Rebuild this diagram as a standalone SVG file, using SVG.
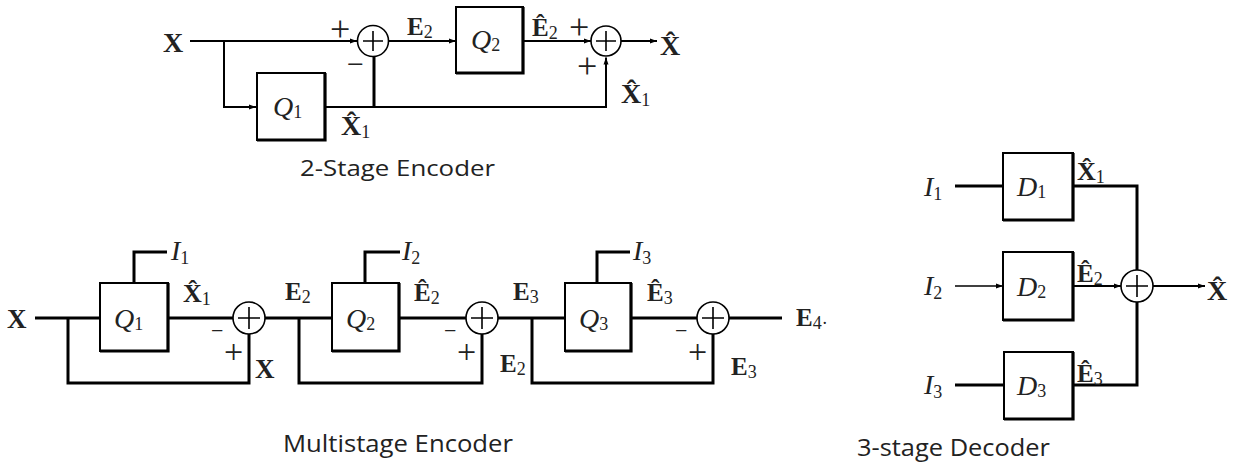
<svg xmlns="http://www.w3.org/2000/svg" width="1237" height="464" viewBox="0 0 1237 464">
<defs>
<marker id="ah" markerUnits="userSpaceOnUse" markerWidth="8" markerHeight="6" refX="7" refY="3" orient="auto"><path d="M0,0.5 L7,3 L0,5.5 Z" fill="#000"/></marker>
<style>
.ln{fill:none;stroke:#000;stroke-width:2}
.tk{fill:none;stroke:#000;stroke-width:3}
.th{fill:none;stroke:#000;stroke-width:1.5}
.bx{fill:#fff;stroke:#000;stroke-width:2}
.bxe{fill:none;stroke:#000;stroke-width:3.2}
.sm{fill:#fff;stroke:#000;stroke-width:1.6}
.pl{stroke:#000;stroke-width:1.6}
.mb{font-family:"Liberation Serif",serif;font-weight:bold;fill:#222}
.mi{font-family:"Liberation Serif",serif;font-style:italic;fill:#222;font-size:28px}
.sub{font-family:"Liberation Serif",serif;font-style:normal;font-weight:normal;font-size:18px}
.sg{font-family:"Liberation Serif",serif;fill:#222}
.cap{font-family:"Open Sans","DejaVu Sans",sans-serif;fill:#222}
</style>
</defs>
<rect width="1237" height="464" fill="#fff"/>

<g id="connectors">
<!-- top encoder -->
<path class="ln" d="M190,41 H357" marker-end="url(#ah)"/>
<path class="ln" d="M224,41 V107 H256" marker-end="url(#ah)"/>
<path class="ln" d="M325,107 H606 V57.5" marker-end="url(#ah)"/>
<path class="tk" d="M374,107 V57"/>
<path class="ln" d="M389,41 H456" marker-end="url(#ah)"/>
<path class="ln" d="M523,41 H591" marker-end="url(#ah)"/>
<path class="ln" d="M621,41 H657" marker-end="url(#ah)"/>
<!-- multistage encoder -->
<path class="tk" d="M35,318 H100"/>
<path class="tk" d="M68,318 V383 H249 V334"/>
<path class="tk" d="M168,318 H233"/>
<path class="tk" d="M265,318 H332"/>
<path class="tk" d="M299,318 V383 H482 V334"/>
<path class="tk" d="M399,318 H466"/>
<path class="tk" d="M498,318 H565"/>
<path class="tk" d="M532,318 V383 H713 V334"/>
<path class="tk" d="M631,318 H697"/>
<path class="tk" d="M729,318 H782"/>
<path class="tk" d="M134,283 V252 H167"/>
<path class="tk" d="M365,283 V252 H400"/>
<path class="tk" d="M597,283 V252 H630"/>
<!-- decoder -->
<path class="tk" d="M955,186 H1003"/>
<path class="tk" d="M1073,186 H1137 V270"/>
<path class="th" d="M955,286 H1003" marker-end="url(#ah)"/>
<path class="ln" d="M1073,286 H1121" marker-end="url(#ah)"/>
<path class="ln" d="M1153,286 H1205" marker-end="url(#ah)"/>
<path class="tk" d="M955,385 H1004"/>
<path class="tk" d="M1073,385 H1137 V302"/>
</g>

<!-- ===== 2-stage encoder ===== -->
<g id="te-x"><text class="mb" x="163" y="52" style="font-size:28px">X</text></g>
<g id="te-q1">
<rect class="bx" x="257" y="73" width="68" height="67"/>
<path class="bxe" d="M325,73 V140 H257"/>
<text class="mi" x="273" y="116">Q<tspan class="sub" dy="2">1</tspan></text>
</g>
<g id="te-sum1">
<circle class="sm" cx="373" cy="41" r="15.5"/>
<path class="pl" d="M363,41 H383 M373,31 V51"/>
<text class="sg" x="330" y="41" style="font-size:36px">+</text>
<text class="sg" x="347" y="74" style="font-size:30px">−</text>
</g>
<g id="te-e2"><text class="mb" x="407" y="35" style="font-size:25px">E<tspan class="sub" dy="3">2</tspan></text></g>
<g id="te-q2">
<rect class="bx" x="456" y="7" width="67" height="66"/>
<path class="bxe" d="M523,7 V73 H456"/>
<text class="mi" x="471" y="49">Q<tspan class="sub" dy="2">2</tspan></text>
</g>
<g id="te-e2h"><text class="mb" x="532" y="36" style="font-size:25px">Ê<tspan class="sub" dy="3">2</tspan></text></g>
<g id="te-sum2">
<circle class="sm" cx="606" cy="41" r="15"/>
<path class="pl" d="M596,41 H616 M606,31 V51"/>
<text class="sg" x="569" y="39" style="font-size:36px">+</text>
<text class="sg" x="577" y="78" style="font-size:36px">+</text>
</g>
<g id="te-out"><text class="mb" x="660" y="55" style="font-size:28px">X̂</text></g>
<g id="te-x1r"><text class="mb" x="621" y="103" style="font-size:28px">X̂<tspan class="sub" dy="3">1</tspan></text></g>
<g id="te-x1b"><text class="mb" x="341" y="135" style="font-size:28px">X̂<tspan class="sub" dy="3">1</tspan></text></g>
<g id="te-cap"><text class="cap" x="300" y="176" style="font-size:22px" textLength="195" lengthAdjust="spacingAndGlyphs">2-Stage Encoder</text></g>

<!-- ===== multistage encoder ===== -->
<g id="me-x"><text class="mb" x="7" y="328" style="font-size:27px">X</text></g>
<g id="me-q1">
<rect class="bx" x="100" y="283" width="68" height="68"/>
<path class="bxe" d="M168,283 V351 H100"/>
<text class="mi" x="114" y="328">Q<tspan class="sub" dy="2">1</tspan></text>
<text class="mi" x="171" y="260">I<tspan class="sub" dy="4">1</tspan></text>
<text class="mb" x="183" y="302" style="font-size:26px">X̂<tspan class="sub" dy="3">1</tspan></text>
</g>
<g id="me-sum1">
<circle class="sm" cx="249" cy="318" r="16"/>
<path class="pl" d="M238,318 H260 M249,307 V329"/>
<text class="sg" x="211" y="338" style="font-size:22px">−</text>
<text class="sg" x="224" y="363" style="font-size:34px">+</text>
<text class="mb" x="255" y="378" style="font-size:27px">X</text>
</g>
<g id="me-e2"><text class="mb" x="285" y="300" style="font-size:25px">E<tspan class="sub" dy="3">2</tspan></text></g>
<g id="me-q2">
<rect class="bx" x="332" y="283" width="67" height="68"/>
<path class="bxe" d="M399,283 V351 H332"/>
<text class="mi" x="346" y="328">Q<tspan class="sub" dy="2">2</tspan></text>
<text class="mi" x="402" y="260">I<tspan class="sub" dy="4">2</tspan></text>
<text class="mb" x="414" y="301" style="font-size:25px">Ê<tspan class="sub" dy="3">2</tspan></text>
</g>
<g id="me-sum2">
<circle class="sm" cx="482" cy="318" r="16"/>
<path class="pl" d="M471,318 H493 M482,307 V329"/>
<text class="sg" x="444" y="338" style="font-size:22px">−</text>
<text class="sg" x="457" y="363" style="font-size:34px">+</text>
<text class="mb" x="500" y="372" style="font-size:25px">E<tspan class="sub" dy="3">2</tspan></text>
</g>
<g id="me-e3"><text class="mb" x="513" y="300" style="font-size:25px">E<tspan class="sub" dy="3">3</tspan></text></g>
<g id="me-q3">
<rect class="bx" x="565" y="283" width="66" height="68"/>
<path class="bxe" d="M631,283 V351 H565"/>
<text class="mi" x="579" y="328">Q<tspan class="sub" dy="2">3</tspan></text>
<text class="mi" x="633" y="260">I<tspan class="sub" dy="4">3</tspan></text>
<text class="mb" x="647" y="301" style="font-size:25px">Ê<tspan class="sub" dy="3">3</tspan></text>
</g>
<g id="me-sum3">
<circle class="sm" cx="713" cy="318" r="16"/>
<path class="pl" d="M702,318 H724 M713,307 V329"/>
<text class="sg" x="675" y="338" style="font-size:22px">−</text>
<text class="sg" x="688" y="363" style="font-size:34px">+</text>
<text class="mb" x="731" y="375" style="font-size:25px">E<tspan class="sub" dy="3">3</tspan></text>
</g>
<g id="me-e4"><text class="mb" x="796" y="326" style="font-size:25px">E<tspan class="sub" dy="3">4·</tspan></text></g>
<g id="me-cap"><text class="cap" x="283" y="452" style="font-size:24px" textLength="230" lengthAdjust="spacingAndGlyphs">Multistage Encoder</text></g>

<!-- ===== 3-stage decoder ===== -->
<g id="d1">
<text class="mi" x="924" y="196">I<tspan class="sub" dy="4">1</tspan></text>
<rect class="bx" x="1003" y="153" width="70" height="67"/>
<path class="bxe" d="M1073,153 V220 H1003"/>
<text class="mi" x="1017" y="196">D<tspan class="sub" dy="2">1</tspan></text>
<text class="mb" x="1077" y="180" style="font-size:26px">X̂<tspan class="sub" dy="3">1</tspan></text>
</g>
<g id="d2">
<text class="mi" x="924" y="295">I<tspan class="sub" dy="4">2</tspan></text>
<rect class="bx" x="1003" y="252" width="70" height="68"/>
<path class="bxe" d="M1073,252 V320 H1003"/>
<text class="mi" x="1017" y="296">D<tspan class="sub" dy="2">2</tspan></text>
<text class="mb" x="1077" y="282" style="font-size:25px">Ê<tspan class="sub" dy="3">2</tspan></text>
</g>
<g id="d3">
<text class="mi" x="924" y="394">I<tspan class="sub" dy="4">3</tspan></text>
<rect class="bx" x="1004" y="352" width="69" height="67"/>
<path class="bxe" d="M1073,352 V419 H1004"/>
<text class="mi" x="1017" y="395">D<tspan class="sub" dy="2">3</tspan></text>
<text class="mb" x="1077" y="382" style="font-size:25px">Ê<tspan class="sub" dy="3">3</tspan></text>
</g>
<g id="d-sum">
<circle class="sm" cx="1137" cy="286" r="16"/>
<path class="pl" d="M1126,286 H1148 M1137,275 V297"/>
</g>
<g id="d-out"><text class="mb" x="1207" y="300" style="font-size:28px">X̂</text></g>
<g id="d-cap"><text class="cap" x="857" y="456" style="font-size:23px" textLength="193" lengthAdjust="spacingAndGlyphs">3-stage Decoder</text></g>
</svg>
